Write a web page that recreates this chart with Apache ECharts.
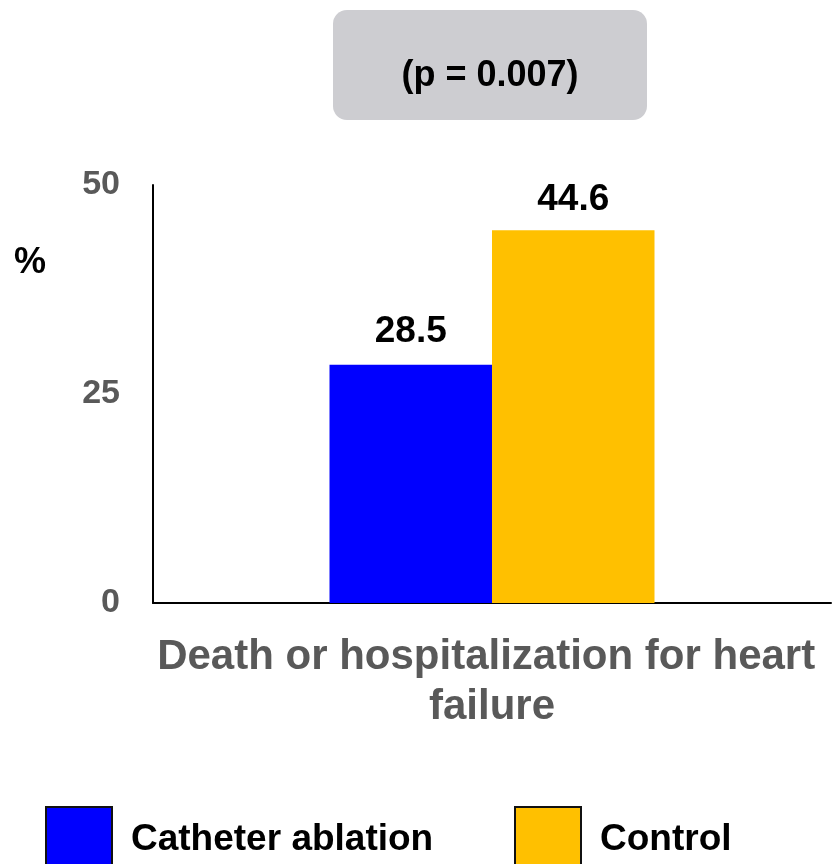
<!DOCTYPE html>
<html>
<head>
<meta charset="utf-8">
<script src="https://cdn.jsdelivr.net/npm/echarts@6/dist/echarts.min.js"></script>
<style>
  html, body { margin: 0; padding: 0; background: #fff; overflow: hidden; }
  #main { width: 835px; height: 864px; }
</style>
</head>
<body>
<div id="main"></div>
<script>
// data
var categories = ['Death or hospitalization for heart failure'];
var ablationValues = [28.5];
var controlValues = [44.6];
var seriesNames = ['Catheter ablation', 'Control'];
var yTicks = [0, 25, 50];
var pValueText = '(p = 0.007)';

var font = '"Liberation Sans", Arial, Helvetica, sans-serif';

var chart = echarts.init(document.getElementById('main'));

var legendBase = {
    top: 806,
    padding: 0,
    icon: 'rect',
    itemWidth: 66,
    itemHeight: 66,
    itemStyle: { borderColor: '#111', borderWidth: 2 }
};

var option = {
    animation: false,
    backgroundColor: '#ffffff',
    textStyle: { fontFamily: font },
    grid: { left: 153, width: 680, top: 185, bottom: 261, containLabel: false },
    legend: [
        Object.assign({}, legendBase, {
            data: [seriesNames[0]],
            left: 45,
            textStyle: { fontFamily: font, fontWeight: 'bold', fontSize: 37, color: '#000', padding: [0, 0, 0, 14] }
        }),
        Object.assign({}, legendBase, {
            data: [seriesNames[1]],
            left: 514,
            textStyle: { fontFamily: font, fontWeight: 'bold', fontSize: 37, color: '#000', padding: [0, 0, 0, 14] }
        })
    ],
    xAxis: {
        type: 'category',
        data: categories,
        axisLine: { lineStyle: { color: '#000', width: 2 } },
        axisTick: { show: false },
        axisLabel: {
            fontFamily: font, fontWeight: 'bold', fontSize: 42, color: '#595959',
            margin: 29, lineHeight: 50, width: 680, overflow: 'break', align: 'center'
        }
    },
    yAxis: {
        type: 'value',
        min: yTicks[0], max: yTicks[yTicks.length - 1], interval: 25,
        axisLine: { show: true, lineStyle: { color: '#000', width: 2 } },
        axisTick: { show: false },
        splitLine: { show: false },
        axisLabel: { fontFamily: font, fontWeight: 'bold', fontSize: 34, color: '#595959', margin: 33 }
    },
    series: [
        {
            name: seriesNames[0],
            type: 'bar',
            data: ablationValues,
            barWidth: 162.5,
            barGap: '0%',
            itemStyle: { color: '#0000ff' },
            label: { show: true, position: 'top', distance: 14, fontFamily: font, fontWeight: 'bold', fontSize: 37, color: '#000' }
        },
        {
            name: seriesNames[1],
            type: 'bar',
            data: controlValues,
            barWidth: 162.5,
            barGap: '0%',
            itemStyle: { color: '#ffc000' },
            label: { show: true, position: 'top', distance: 12, fontFamily: font, fontWeight: 'bold', fontSize: 37, color: '#000' }
        }
    ],
    graphic: [
        {
            type: 'group',
            left: 333, top: 10,
            children: [
                {
                    type: 'rect',
                    shape: { x: 0, y: 0, width: 314, height: 110, r: 14 },
                    style: { fill: '#cdcdd1' }
                },
                {
                    type: 'text',
                    x: 157, y: 66,
                    style: {
                        text: pValueText, fontFamily: font, fontWeight: 'bold', fontSize: 36,
                        fill: '#000', align: 'center', verticalAlign: 'middle'
                    }
                }
            ]
        },
        {
            type: 'text',
            left: 14, top: 245,
            style: { text: '%', fontFamily: font, fontWeight: 'bold', fontSize: 36, fill: '#000' }
        }
    ]
};

chart.setOption(option);
</script>
</body>
</html>
